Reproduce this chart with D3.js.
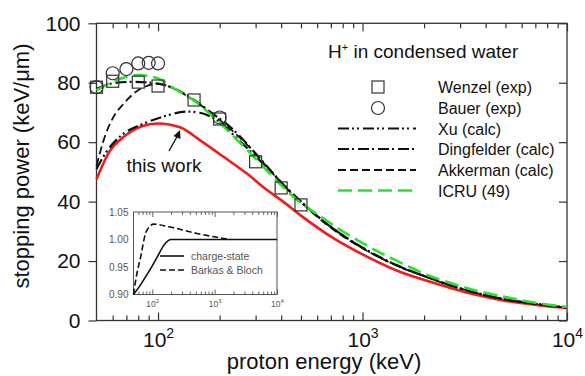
<!DOCTYPE html>
<html>
<head>
<meta charset="utf-8">
<script src="https://cdn.jsdelivr.net/npm/d3@7"></script>
<style>
  body { margin: 0; background: #fff; }
  svg { display: block; font-family: Arial, "Liberation Sans", sans-serif; }
</style>
</head>
<body>
<svg id="chart" width="585" height="376"></svg>
<script>
// ---- data ----
const wenzelE = [50, 60, 80, 100, 150, 200, 300, 400, 500];
const wenzelS = [78.5, 80.5, 80.2, 78.9, 74.2, 67.8, 53.4, 44.6, 38.9];

const bauerE = [50, 60, 70, 80, 90, 100, 200];
const bauerS = [78.5, 83.2, 84.6, 86.5, 86.7, 86.5, 68.3];

const xuE = [50, 55, 63, 70, 82, 106, 138, 160, 193, 250, 340, 400, 500, 700, 1000, 1500, 2000, 3000, 5000, 7000, 10000];
const xuS = [51, 56, 61, 63.5, 65.8, 68.6, 70.3, 69.9, 67.5, 60.5, 51.5, 46.5, 40, 31.5, 24.5, 18.3, 15, 10.8, 7.1, 5.6, 4.3];

const dingE = [50, 60, 75, 100, 125, 150, 180, 225, 280, 340, 400, 500, 700, 1000, 1500, 2000, 3000, 5000, 7000, 10000];
const dingS = [78, 79.8, 80.3, 79.7, 77.5, 74.2, 70.2, 65.2, 58.5, 52, 46.5, 40, 31.5, 24.5, 18.3, 15, 10.8, 7.1, 5.6, 4.3];

const akkE = [50, 55, 60, 68, 80, 100, 125, 150, 200, 280, 340, 400, 500, 700, 1000, 1500, 2000, 3000, 5000, 7000, 10000];
const akkS = [52, 62, 68, 73, 77.5, 79.6, 77.3, 74, 67.5, 58.3, 51.8, 46.3, 39.8, 31.2, 24.3, 18.2, 14.9, 10.8, 7.1, 5.6, 4.3];

const icruE = [50, 60, 70, 80, 100, 120, 150, 200, 250, 300, 400, 500, 600, 800, 1000, 1500, 2000, 3000, 4000, 5000, 7000, 10000];
const icruS = [77.5, 80.3, 82, 82.6, 81.4, 78, 74, 66.5, 60, 54.5, 45.5, 39.5, 35.8, 30, 26, 19.8, 15.8, 11.6, 9.3, 7.9, 6.0, 4.55];

const thisE = [50, 58, 68, 82, 100, 128, 160, 210, 270, 340, 400, 500, 720, 1050, 1520, 2200, 3500, 5000, 7400, 10000];
const thisS = [47.5, 57, 61.8, 65.2, 66.3, 65, 60.7, 55, 49.6, 44, 40.5, 35.3, 27.7, 21.5, 16.4, 12.8, 8.8, 6.6, 5.1, 4.2];

// inset: correction factors
const chargeE = [50, 60, 78, 100, 120, 150, 180, 200, 10000];
const chargeV = [0.90, 0.912, 0.932, 0.952, 0.968, 0.988, 0.998, 1.0, 1.0];
const barkasE = [50, 55, 65, 78, 90, 105, 130, 170, 250, 520, 1100, 1800];
const barkasV = [0.90, 0.93, 0.968, 1.011, 1.023, 1.028, 1.027, 1.024, 1.020, 1.011, 1.004, 1.0];

const yTicks = [0, 20, 40, 60, 80, 100];
const xMajor = [100, 1000, 10000];
const xMinor = [60, 70, 80, 90, 200, 300, 400, 500, 600, 700, 800, 900,
  2000, 3000, 4000, 5000, 6000, 7000, 8000, 9000];
const insetYTicks = [0.90, 0.95, 1.00, 1.05];

const legendTitle = "in condensed water";
const legendNames = ["Wenzel (exp)", "Bauer (exp)", "Xu (calc)", "Dingfelder (calc)", "Akkerman (calc)", "ICRU (49)"];

// ---- styles ----
const axisColor = "#333";
const redColor = "#ee1c1c";
const greenColor = "#2ee02e";
const dashXu = "11,3,2,3,2,4";
const dashDing = "11,3,2,4";
const dashAkk = "8,4";
const dashIcru = "14,6";

const svg = d3.select("#chart");
const x = d3.scaleLog().domain([50, 10000]).range([96.5, 567]);
const y = d3.scaleLinear().domain([0, 100]).range([320.5, 23.3]);

function zip(es, vs) { return es.map((e, i) => ({ e, v: vs[i] })); }

function styleAxis(g) {
  g.select(".domain").remove();
  g.selectAll(".tick line").attr("stroke", axisColor).attr("stroke-width", 1.2);
}

// ---- axes ----
svg.append("g").attr("transform", `translate(0,${y(0)})`)
  .call(d3.axisBottom(x).tickValues(xMinor).tickSize(-5).tickFormat("")).call(styleAxis);
const bottomMajor = svg.append("g").attr("transform", `translate(0,${y(0)})`)
  .call(d3.axisBottom(x).tickValues(xMajor).tickSize(-8)).call(styleAxis);
bottomMajor.selectAll(".tick text")
  .attr("y", 26).attr("dy", 0).attr("fill", "#111").attr("font-size", 21)
  .text(null)
  .call((t) => {
    t.append("tspan").text("10");
    t.append("tspan").attr("dy", -9).attr("font-size", 14).text((d) => Math.round(Math.log10(d)));
  });

svg.append("g").attr("transform", `translate(0,${y(100)})`)
  .call(d3.axisTop(x).tickValues(xMinor).tickSize(-5).tickFormat("")).call(styleAxis);
svg.append("g").attr("transform", `translate(0,${y(100)})`)
  .call(d3.axisTop(x).tickValues(xMajor).tickSize(-8).tickFormat("")).call(styleAxis);

const left = svg.append("g").attr("transform", `translate(${x(50)},0)`)
  .call(d3.axisLeft(y).tickValues(yTicks).tickSize(8).tickPadding(8)).call(styleAxis);
left.selectAll(".tick text").attr("font-size", 21).attr("fill", "#111");

svg.append("g").attr("transform", `translate(${x(10000)},0)`)
  .call(d3.axisRight(y).tickValues(yTicks).tickSize(-8).tickFormat("")).call(styleAxis);

svg.append("rect")
  .attr("x", x(50)).attr("y", y(100))
  .attr("width", x(10000) - x(50)).attr("height", y(0) - y(100))
  .attr("fill", "none").attr("stroke", axisColor).attr("stroke-width", 1.3);

// axis titles
svg.append("text").attr("x", 324).attr("y", 369).attr("text-anchor", "middle")
  .attr("font-size", 22).attr("fill", "#111").text("proton energy (keV)");
svg.append("text").attr("transform", "translate(29,166) rotate(-90)").attr("text-anchor", "middle")
  .attr("font-size", 22).attr("fill", "#111").text("stopping power (keV/μm)");

// ---- curves ----
const line = d3.line().x((d) => x(d.e)).y((d) => y(d.v)).curve(d3.curveMonotoneX);

function drawCurve(es, vs, color, width, dash) {
  svg.append("path").datum(zip(es, vs))
    .attr("fill", "none").attr("stroke", color).attr("stroke-width", width)
    .attr("stroke-dasharray", dash).attr("d", line);
}

drawCurve(thisE, thisS, redColor, 2.6, null);
drawCurve(akkE, akkS, "#111", 1.8, dashAkk);
drawCurve(xuE, xuS, "#111", 2.2, dashXu);
drawCurve(dingE, dingS, "#111", 2.2, dashDing);
drawCurve(icruE, icruS, greenColor, 2.6, dashIcru);

// markers
svg.append("g").selectAll("rect").data(zip(wenzelE, wenzelS)).enter().append("rect")
  .attr("x", (d) => x(d.e) - 6).attr("y", (d) => y(d.v) - 6)
  .attr("width", 12).attr("height", 12)
  .attr("fill", "none").attr("stroke", "#333").attr("stroke-width", 1.2);
svg.append("g").selectAll("circle").data(zip(bauerE, bauerS)).enter().append("circle")
  .attr("cx", (d) => x(d.e)).attr("cy", (d) => y(d.v)).attr("r", 6.5)
  .attr("fill", "none").attr("stroke", "#333").attr("stroke-width", 1.2);

// "this work" annotation
svg.append("text").attr("x", 164).attr("y", 172).attr("text-anchor", "middle")
  .attr("font-size", 19).attr("fill", "#111").text("this work");
svg.append("line").attr("x1", 169).attr("y1", 151).attr("x2", 178).attr("y2", 135)
  .attr("stroke", "#111").attr("stroke-width", 1.4);
svg.append("path").attr("d", "M180,130 L173.5,136 L180.5,139 Z").attr("fill", "#111");

// ---- legend ----
const lg = svg.append("g");
const title = lg.append("text").attr("x", 328).attr("y", 58).attr("font-size", 19).attr("fill", "#111");
title.append("tspan").text("H");
title.append("tspan").attr("dy", -7).attr("font-size", 11).text("+");
title.append("tspan").attr("dy", 7).text(" " + legendTitle);

const rowY = [87, 108, 128.5, 149, 170, 190.5];
legendNames.forEach((name, i) => {
  lg.append("text").attr("x", 438).attr("y", rowY[i] + 6).attr("font-size", 16)
    .attr("fill", "#111").text(name);
});
lg.append("rect").attr("x", 372).attr("y", rowY[0] - 6).attr("width", 12).attr("height", 12)
  .attr("fill", "none").attr("stroke", "#333").attr("stroke-width", 1.2);
lg.append("circle").attr("cx", 378).attr("cy", rowY[1]).attr("r", 6.5)
  .attr("fill", "none").attr("stroke", "#333").attr("stroke-width", 1.2);
[[dashXu, "#111", 2.2], [dashDing, "#111", 2.2], [dashAkk, "#111", 1.8], [dashIcru, greenColor, 2.6]]
  .forEach(([dash, color, w], i) => {
    lg.append("line").attr("x1", 338).attr("x2", 416)
      .attr("y1", rowY[i + 2]).attr("y2", rowY[i + 2])
      .attr("stroke", color).attr("stroke-width", w).attr("stroke-dasharray", dash);
  });

// ---- inset ----
const xi = d3.scaleLog().domain([50, 10000]).range([133.5, 277]);
const yi = d3.scaleLinear().domain([0.90, 1.05]).range([294.5, 212]);
const inset = svg.append("g");
inset.append("rect").attr("x", xi(50)).attr("y", yi(1.05))
  .attr("width", xi(10000) - xi(50)).attr("height", yi(0.90) - yi(1.05))
  .attr("fill", "#fff").attr("stroke", "#555").attr("stroke-width", 1);

function styleInsetAxis(g) {
  g.select(".domain").remove();
  g.selectAll(".tick line").attr("stroke", "#555").attr("stroke-width", 0.9);
}
inset.append("g").attr("transform", `translate(0,${yi(0.90)})`)
  .call(d3.axisBottom(xi).tickValues(xMinor).tickSize(-3).tickFormat("")).call(styleInsetAxis);
const insetBottom = inset.append("g").attr("transform", `translate(0,${yi(0.90)})`)
  .call(d3.axisBottom(xi).tickValues(xMajor).tickSize(-5)).call(styleInsetAxis);
insetBottom.selectAll(".tick text")
  .attr("y", 12).attr("dy", 0).attr("fill", "#555").attr("font-size", 8.5)
  .text(null)
  .call((t) => {
    t.append("tspan").text("10");
    t.append("tspan").attr("dy", -3.5).attr("font-size", 6).text((d) => Math.round(Math.log10(d)));
  });
inset.append("g").attr("transform", `translate(0,${yi(1.05)})`)
  .call(d3.axisTop(xi).tickValues(xMinor).tickSize(-3).tickFormat("")).call(styleInsetAxis);
inset.append("g").attr("transform", `translate(0,${yi(1.05)})`)
  .call(d3.axisTop(xi).tickValues(xMajor).tickSize(-5).tickFormat("")).call(styleInsetAxis);
const insetLeft = inset.append("g").attr("transform", `translate(${xi(50)},0)`)
  .call(d3.axisLeft(yi).tickValues(insetYTicks).tickSize(0).tickPadding(5).tickFormat(d3.format(".2f")))
  .call(styleInsetAxis);
insetLeft.selectAll(".tick text").attr("font-size", 10).attr("fill", "#555");

const lineI = d3.line().x((d) => xi(d.e)).y((d) => yi(d.v)).curve(d3.curveMonotoneX);
inset.append("path").datum(zip(chargeE, chargeV)).attr("fill", "none")
  .attr("stroke", "#111").attr("stroke-width", 1.6).attr("d", lineI);
inset.append("path").datum(zip(barkasE, barkasV)).attr("fill", "none")
  .attr("stroke", "#111").attr("stroke-width", 1.6).attr("stroke-dasharray", "6,3").attr("d", lineI);

inset.append("line").attr("x1", 160).attr("x2", 184).attr("y1", 256).attr("y2", 256)
  .attr("stroke", "#111").attr("stroke-width", 1.6);
inset.append("line").attr("x1", 160).attr("x2", 184).attr("y1", 270).attr("y2", 270)
  .attr("stroke", "#111").attr("stroke-width", 1.6).attr("stroke-dasharray", "6,3");
inset.append("text").attr("x", 191).attr("y", 259.5).attr("font-size", 10.5).attr("fill", "#555").text("charge-state");
inset.append("text").attr("x", 191).attr("y", 273.5).attr("font-size", 10.5).attr("fill", "#555").text("Barkas & Bloch");
</script>
</body>
</html>
